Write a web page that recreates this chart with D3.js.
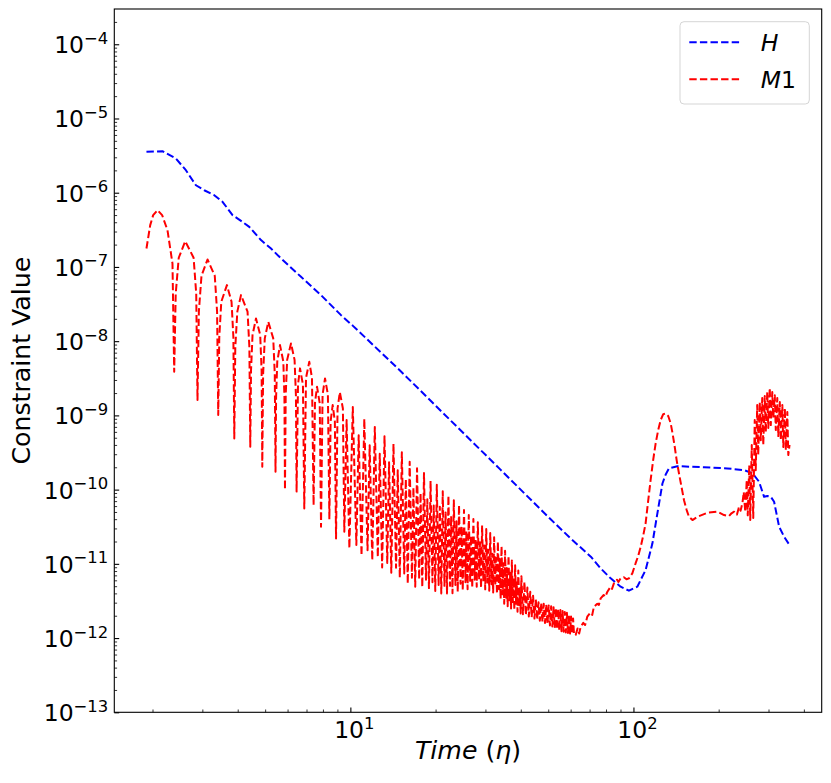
<!DOCTYPE html>
<html><head><meta charset="utf-8">
<script src="https://cdn.jsdelivr.net/npm/d3@7"></script>
<style>body{margin:0;background:#fff} svg{display:block} text{font-family:"DejaVu Sans",sans-serif;fill:#000}</style>
</head><body><svg id="c" width="831" height="783"></svg>
<script>
const seriesNames = ["H", "M1"];
const seriesColors = ["#0000ff", "#ff0000"];
const yTickExponents = [-13, -12, -11, -10, -9, -8, -7, -6, -5, -4];
const xTickExponents = [1, 2];
const yLabelText = "Constraint Value";

// H constraint: [time, value]
const hData = [[1.904,3.55e-6],[2.168,3.63e-6],[2.419,2.89e-6],[2.624,2.01e-6],[2.847,1.26e-6],[3.046,1.08e-6],[3.305,9.27e-7],[3.535,7.54e-7],[3.835,4.99e-7],[4.108,4.18e-7],[4.394,3.47e-7],[4.833,2.30e-7],[5.244,1.77e-7],[5.689,1.30e-7],[6.693,7.36e-8],[7.877,4.17e-8],[9.27,2.24e-8],[10.19,1.62e-8],[15.03,3.97e-9],[22.57,8.59e-10],[33.9,1.86e-10],[50.9,4.01e-11],[60.0,2.2e-11],[70.7,1.25e-11],[76.6,8.69e-12],[83.1,6.38e-12],[90.1,4.92e-12],[96.4,4.35e-12],[103.2,4.92e-12],[110.4,8.26e-12],[116.7,1.89e-11],[121.5,4.79e-11],[126.6,1.21e-10],[130.0,1.6e-10],[133.5,1.93e-10],[143.0,2.07e-10],[177.5,2.0e-10],[214.8,1.93e-10],[245.9,1.83e-10],[263.3,1.66e-10],[277.8,1.28e-10],[289.4,8.0e-11],[297.0,8.2e-11],[305.6,8.0e-11],[314.0,6.85e-11],[327.1,3.16e-11],[340.7,2.32e-11],[356.0,1.79e-11]];

// M1 constraint: [time, value]
const m1Data = [[1.904,1.77e-7],[1.963,3.66e-7],[2.011,4.99e-7],[2.083,5.82e-7],[2.163,4.99e-7],[2.259,3.13e-7],[2.353,1.11e-7],[2.386,3.86e-9],
[2.416,4.4e-8],[2.476,1.33e-7],[2.610,2.22e-7],[2.794,1.33e-7],[2.854,4.4e-8],[2.884,1.61e-9],
[2.916,2.5e-8],[2.979,7.6e-8],[3.129,1.26e-7],[3.319,7.6e-8],[3.382,2.5e-8],[3.414,1.01e-9],
[3.443,1.14e-8],[3.50,3.4e-8],[3.664,5.69e-8],[3.804,3.4e-8],[3.861,1.14e-8],[3.89,4.9e-10],
[3.922,8.3e-9],[3.987,2.5e-8],[4.108,4.17e-8],[4.333,2.5e-8],[4.398,8.3e-9],[4.43,3.78e-10],
[4.457,4.0e-9],[4.512,1.21e-8],[4.641,2.02e-8],[4.803,1.21e-8],[4.858,4.0e-9],[4.885,2.03e-10],
[4.918,3.6e-9],[4.985,1.09e-8],[5.13,1.82e-8],[5.34,1.09e-8],[5.407,3.6e-9],[5.44,1.74e-10],
[5.466,1.77e-9],[5.518,5.3e-9],[5.642,8.85e-9],[5.797,5.3e-9],[5.849,1.77e-9],[5.875,1.0e-10],
[5.91,1.87e-9],[5.98,5.6e-9],[6.17,9.33e-9],[6.352,5.6e-9],[6.422,1.87e-9],[6.457,9.4e-11],
[6.532,2.6e-9],[6.64,4.3e-9],[6.799,2.6e-9],[6.874,5.58e-11],
[6.971,3.2e-9],[7.16,5.27e-9],[7.318,3.2e-9],[7.415,6.2e-11],
[7.498,1.46e-9],[7.624,2.43e-9],[7.794,1.46e-9],[7.877,3.16e-11],
[7.977,1.9e-9],[8.137,3.15e-9],[8.33,1.9e-9],[8.43,3.97e-11],
[8.515,8.3e-10],[8.66,1.38e-9],[8.815,8.3e-10],[8.90,2.2e-11],
[9.01,1.24e-9],[9.18,2.06e-9],[9.41,1.24e-9],[9.52,2.7e-11],
[9.70,8.65e-10],[9.92,1.62e-11],
[10.2,1.30e-9],[10.5,1.79e-11],[10.7,5.4e-10],[10.95,1.30e-11],
[11.2,8.97e-10],[11.5,1.52e-11],[11.7,3.97e-10],[11.95,1.12e-11],
[12.2,7.0e-10],[12.5,1.23e-11],[12.7,3.04e-10],[12.95,8.9e-12],
[13.2,5.25e-10],[13.5,1.03e-11],[13.7,2.33e-10],[13.95,7.6e-12],
[14.2,4.14e-10],[14.5,8.85e-12],[14.7,1.82e-10],[14.95,6.5e-12],
[15.2,3.19e-10],[15.5,7.4e-12],[15.7,1.38e-10],[15.95,5.4e-12],
[16.2,2.38e-10],[16.5,6.5e-12],[16.7,1.07e-10],[16.95,4.93e-12],
[17.2,1.94e-10],[17.5,6.2e-12],[17.7,9.0e-11],[17.95,4.86e-12],
[18.2,1.67e-10],[18.5,6.1e-12],[18.7,7.4e-11],[18.95,4.71e-12],
[19.2,1.31e-10],[19.5,5.65e-12],[19.7,6.1e-11],[19.95,4.32e-12],
[20.2,1.16e-10],[20.5,5.2e-12],[20.7,5.9e-11],[20.95,4.0e-12],
[21.2,9.5e-11],[21.5,5.05e-12],[21.7,4.9e-11],[21.95,4.0e-12],
[22.2,8.3e-11],[22.5,5.05e-12],[22.7,4.4e-11],[22.95,4.02e-12],
[23.2,7.2e-11],[23.5,5.2e-12],[23.7,3.76e-11],[23.95,4.2e-12],
[24.2,6.2e-11],[24.5,5.4e-12],[24.7,3.2e-11],[24.95,4.4e-12],
[25.2,5.3e-11],[25.5,5.65e-12],[25.7,2.75e-11],[25.95,4.56e-12],
[26.2,4.55e-11],[26.5,5.9e-12],[26.7,2.39e-11],[26.95,4.73e-12],
[27.2,4.03e-11],[27.5,6.1e-12],[27.7,2.15e-11],[27.95,4.9e-12],
[28.2,3.64e-11],[28.5,6.1e-12],[28.7,1.95e-11],[28.95,4.73e-12],
[29.2,3.29e-11],[29.5,5.8e-12],[29.7,1.76e-11],[29.95,4.53e-12],
[30.2,2.94e-11],[30.5,5.6e-12],[30.7,1.55e-11],[30.95,4.33e-12],
[31.2,2.6e-11],[31.5,5.3e-12],[31.7,1.37e-11],[31.95,4.12e-12],
[32.2,2.28e-11],[32.5,5.05e-12],[32.7,1.2e-11],[32.95,3.93e-12],
[33.2,2.0e-11],[33.5,4.55e-12],[33.7,1.17e-11],[33.95,3.37e-12],
[34.2,1.73e-11],[34.5,3.88e-12],[34.7,1.02e-11],[34.95,2.9e-12],
[35.2,1.5e-11],[35.5,3.5e-12],[35.7,8.8e-12],[35.95,2.69e-12],
[36.2,1.29e-11],[36.5,3.24e-12],[36.7,7.6e-12],[36.95,2.5e-12],
[37.2,1.11e-11],[37.5,3.06e-12],[37.7,6.5e-12],[37.95,2.38e-12],
[38.2,9.55e-12],[38.5,2.91e-12],[38.7,5.6e-12],[38.95,2.26e-12],
[39.2,8.15e-12],[39.5,2.77e-12],[39.7,4.7e-12],[39.95,2.15e-12],
[40.2,6.8e-12],[40.7,2.09e-12],[41.2,5.7e-12],[41.7,2.03e-12],[42.2,4.8e-12],[42.7,1.96e-12],[43.2,4.2e-12],[43.7,1.9e-12],
[44.2,3.73e-12],[44.7,1.83e-12],[45.2,3.3e-12],[45.7,1.77e-12],[46.2,3.03e-12],[46.7,1.71e-12],[47.2,2.96e-12],[47.7,1.65e-12],
[48.2,2.89e-12],[48.7,1.6e-12],[49.2,2.82e-12],[49.7,1.54e-12],[50.2,2.75e-12],[50.7,1.48e-12],[51.2,2.68e-12],[51.7,1.43e-12],
[52.2,2.61e-12],[52.7,1.37e-12],[53.2,2.54e-12],[53.7,1.32e-12],[54.2,2.45e-12],[54.7,1.27e-12],[55.2,2.38e-12],[55.7,1.24e-12],
[56.2,2.31e-12],[56.7,1.22e-12],[57.2,2.25e-12],[57.7,1.19e-12],[58.2,2.19e-12],[58.7,1.17e-12],[59.2,2.08e-12],[59.7,1.15e-12],
[60.2,1.95e-12],[60.7,1.14e-12],[61.2,1.84e-12],[61.7,1.11e-12],
[62.5,1.10e-12],[63.5,1.35e-12],[64.3,1.15e-12],[65.1,1.42e-12],[66.5,1.6e-12],[67.5,1.5e-12],[68.7,1.94e-12],[70.5,2.2e-12],[71.5,2.05e-12],[72.5,2.64e-12],
[74.5,2.9e-12],[75.5,2.8e-12],[76.6,3.43e-12],[78.5,3.8e-12],[79.5,3.6e-12],[80.9,4.21e-12],[83.0,4.9e-12],[84.0,4.6e-12],[85.3,5.46e-12],[87.5,6.1e-12],
[88.5,5.7e-12],[90.1,6.38e-12],[92.5,6.6e-12],[94.5,6.2e-12],[96.4,6.38e-12],[99.1,7.45e-12],[101.8,1.02e-11],[103.9,1.27e-11],[106.1,1.70e-11],[108.2,2.37e-11],
[110.4,3.51e-11],[112.7,7.0e-11],[115.0,1.35e-10],[117.4,2.5e-10],[119.8,4.2e-10],[122.3,6.34e-10],[124.8,8.65e-10],[127.4,1.04e-9],[130.0,1.06e-9],[132.7,9.8e-10],
[135.4,7.8e-10],[137.6,5.6e-10],[139.9,3.78e-10],[142.1,2.5e-10],[144.8,1.66e-10],[148.1,1.05e-10],[150.9,7.2e-11],[154.2,5.3e-11],[157.1,4.3e-11],[161.6,3.89e-11],
[168.3,4.3e-11],[182.5,4.88e-11],[198.1,5.04e-11],[208.9,4.54e-11],[217.6,4.4e-11],[222.0,4.8e-11],[226.7,5.04e-11],[232.0,4.6e-11],[236.1,5.87e-11],[239.0,5.2e-11],[242.7,6.6e-11],
[245.3,9.3e-11],[248.3,5.0e-11],[251.3,1.35e-10],[253.4,4.5e-11],[256.5,2.14e-10],[258.6,3.9e-11],[261.8,3.98e-10],[265.0,4.14e-11],[268.2,8.65e-10],[270.4,1.83e-10],
[273.7,1.38e-9],[275.9,2.92e-10],[279.4,1.51e-9],[281.7,4.64e-10],[285.1,1.71e-9],[287.5,3.98e-10],[291.0,1.82e-9],[293.4,5.96e-10],[297.0,2.06e-9],[299.5,6.75e-10],
[303.1,2.33e-9],[305.6,7.4e-10],[309.3,2.06e-9],[311.9,9.2e-10],[315.7,1.87e-9],[318.3,6.34e-10],[322.2,1.71e-9],[324.9,5.26e-10],[328.9,1.51e-9],[331.6,4.64e-10],
[335.7,1.38e-9],[338.4,3.74e-10],[342.6,1.25e-9],[345.4,3.41e-10],[349.6,1.11e-9],[352.4,2.92e-10],[356.0,4.0e-10]];

const allSeries = [hData, m1Data];

const svg = d3.select("#c");
const plot = {left: 114.3, right: 821.7, top: 9, bottom: 712.3};
const FS = 23.5;
const LFS = 25.2;

// x domain: data extent with 5% log margins (matplotlib default)
const tMin = d3.min(allSeries, s => d3.min(s, d => d[0]));
const tMax = d3.max(allSeries, s => d3.max(s, d => d[0]));
const lr = Math.log10(tMax) - Math.log10(tMin);
const x = d3.scaleLog()
  .domain([Math.pow(10, Math.log10(tMin) - 0.05 * lr), Math.pow(10, Math.log10(tMax) + 0.05 * lr)])
  .range([plot.left, plot.right]);
const y = d3.scaleLog().domain([1e-13, Math.pow(10, -3.525)]).range([plot.bottom, plot.top]);

svg.append("defs").append("clipPath").attr("id", "clip")
  .append("rect").attr("x", plot.left).attr("y", plot.top)
  .attr("width", plot.right - plot.left).attr("height", plot.bottom - plot.top);

// lines
const line = d3.line().x(d => x(d[0])).y(d => y(d[1]));
const gLines = svg.append("g").attr("clip-path", "url(#clip)");
allSeries.forEach((s, i) => {
  gLines.append("path").datum(s).attr("d", line)
    .attr("fill", "none").attr("stroke", seriesColors[i])
    .attr("stroke-width", 2).attr("stroke-dasharray", "7.4,3.2")
    .attr("stroke-linejoin", "round");
});

// ticks
const [xd0, xd1] = x.domain();
const [yd0, yd1] = y.domain();
const xMajor = xTickExponents.map(e => Math.pow(10, e));
const xMinor = [];
for (let e = 0; e <= 2; e++) for (let m = 2; m <= 9; m++) { const v = m * Math.pow(10, e); if (v >= xd0 && v <= xd1) xMinor.push(v); }
const yMajor = yTickExponents.map(e => Math.pow(10, e));
const yMinor = [];
for (let e = -13; e <= -4; e++) for (let m = 2; m <= 9; m++) { const v = m * Math.pow(10, e); if (v >= yd0 && v <= yd1) yMinor.push(v); }

function styleAxis(g) { g.select(".domain").remove(); g.selectAll("line").attr("stroke", "#000").attr("stroke-width", 1.1); g.selectAll("text").remove(); }

svg.append("g").attr("transform", `translate(0,${plot.bottom})`)
  .call(d3.axisBottom(x).tickValues(xMajor).tickSize(-4.9).tickFormat("")).call(styleAxis);
svg.append("g").attr("transform", `translate(0,${plot.bottom})`)
  .call(d3.axisBottom(x).tickValues(xMinor).tickSize(-2.8).tickFormat("")).call(g => { styleAxis(g); g.selectAll("line").attr("stroke-width", 0.8); });
svg.append("g").attr("transform", `translate(${plot.left},0)`)
  .call(d3.axisLeft(y).tickValues(yMajor).tickSize(-4.9).tickFormat("")).call(styleAxis);
svg.append("g").attr("transform", `translate(${plot.left},0)`)
  .call(d3.axisLeft(y).tickValues(yMinor).tickSize(-2.8).tickFormat("")).call(g => { styleAxis(g); g.selectAll("line").attr("stroke-width", 0.8); });

// tick labels
function powLabel(sel, e) {
  sel.append("tspan").text("10");
  sel.append("tspan").attr("dy", -9.5).attr("font-size", FS * 0.7).text(String(e).replace("-", "\u2212"));
}
yTickExponents.forEach(e => {
  const t = svg.append("text").attr("x", plot.left - 6).attr("y", y(Math.pow(10, e)) + 9)
    .attr("text-anchor", "end").attr("font-size", FS);
  powLabel(t, e);
});
xTickExponents.forEach(e => {
  const t = svg.append("text").attr("x", x(Math.pow(10, e)) + 4).attr("y", plot.bottom + 26)
    .attr("text-anchor", "middle").attr("font-size", FS);
  powLabel(t, e);
});

// axis labels
const xl = svg.append("text").attr("x", (plot.left + plot.right) / 2).attr("y", 759)
  .attr("text-anchor", "middle").attr("font-size", LFS);
xl.append("tspan").attr("font-style", "italic").text("Time");
xl.append("tspan").text(" (");
xl.append("tspan").attr("font-style", "italic").text("\u03b7");
xl.append("tspan").text(")");

svg.append("text").attr("transform", `translate(30,${(plot.top + plot.bottom) / 2}) rotate(-90)`)
  .attr("text-anchor", "middle").attr("font-size", LFS).text(yLabelText);

// frame
svg.append("rect").attr("x", plot.left).attr("y", plot.top)
  .attr("width", plot.right - plot.left).attr("height", plot.bottom - plot.top)
  .attr("fill", "none").attr("stroke", "#000").attr("stroke-width", 1.1);

// legend
const lg = svg.append("g");
lg.append("rect").attr("x", 680).attr("y", 21.7).attr("width", 129.3).attr("height", 82.3)
  .attr("rx", 4).attr("fill", "#fff").attr("fill-opacity", 0.8).attr("stroke", "#d5d5d5").attr("stroke-width", 1);
const legY = [42.3, 79.3];
seriesNames.forEach((n, i) => {
  lg.append("line").attr("x1", 689.3).attr("x2", 740).attr("y1", legY[i]).attr("y2", legY[i])
    .attr("stroke", seriesColors[i]).attr("stroke-width", 2).attr("stroke-dasharray", "7.4,3.2");
  const t = lg.append("text").attr("x", 760.7).attr("y", legY[i] + 8.6).attr("font-size", FS);
  t.append("tspan").attr("font-style", "italic").text(n.replace(/[0-9]/g, ""));
  const digits = n.replace(/[^0-9]/g, "");
  if (digits) t.append("tspan").text(digits);
});
</script></body></html>
